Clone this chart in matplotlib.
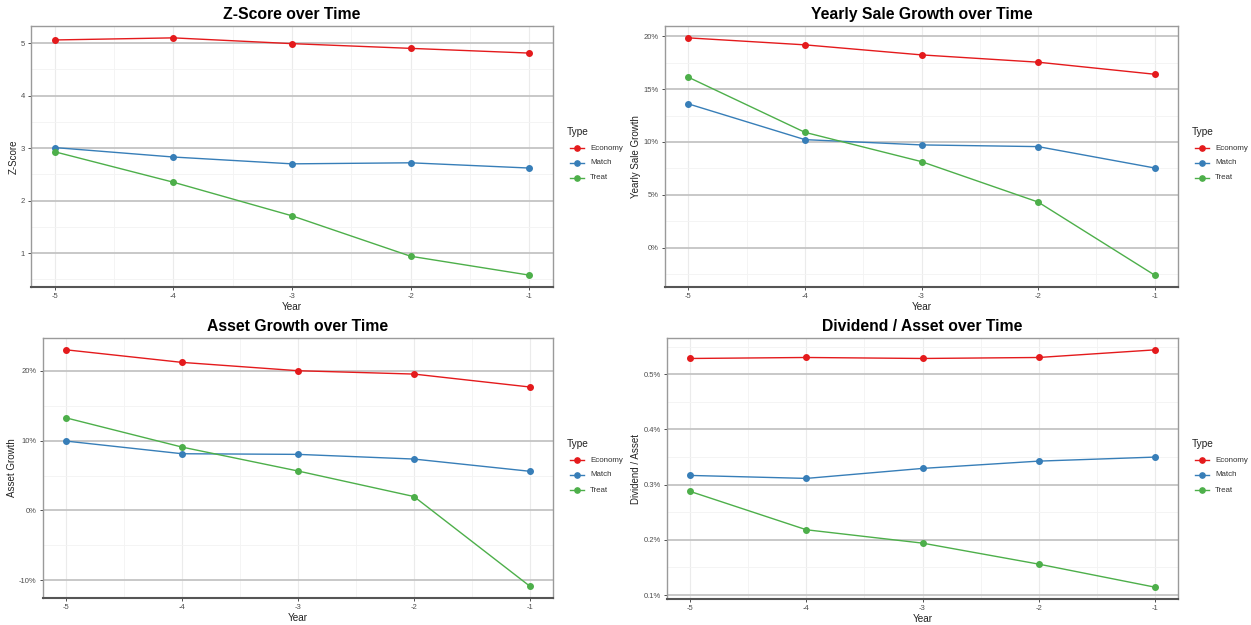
import matplotlib
matplotlib.use("Agg")
import matplotlib.pyplot as plt
from matplotlib.ticker import FixedLocator, FuncFormatter
from matplotlib.lines import Line2D

plt.rcParams['font.family'] = ['Liberation Sans', 'DejaVu Sans']

years = [-5, -4, -3, -2, -1]
types = ["Economy", "Match", "Treat"]
colors = {"Economy": "#E41A1C", "Match": "#377EB8", "Treat": "#4DAF4A"}

zscore_economy = [5.06, 5.10, 4.99, 4.90, 4.81]
zscore_match = [3.01, 2.83, 2.70, 2.72, 2.62]
zscore_treat = [2.93, 2.35, 1.71, 0.94, 0.58]

sale_economy = [19.84, 19.18, 18.23, 17.54, 16.40]
sale_match = [13.60, 10.22, 9.72, 9.56, 7.54]
sale_treat = [16.12, 10.91, 8.14, 4.32, -2.59]

asset_economy = [22.99, 21.19, 20.00, 19.52, 17.67]
asset_match = [9.93, 8.12, 8.03, 7.36, 5.61]
asset_treat = [13.25, 9.07, 5.65, 2.00, -10.83]

div_economy = [0.5284, 0.5302, 0.5284, 0.5302, 0.5440]
div_match = [0.3166, 0.3112, 0.3293, 0.3425, 0.3498]
div_treat = [0.2876, 0.2182, 0.1940, 0.1560, 0.1143]

W, H = 1251, 625
fig = plt.figure(figsize=(W / 100, H / 100), dpi=100)


def add_ax(l, t, r, b):
    return fig.add_axes([l / W, 1 - b / H, (r - l) / W, (b - t) / H])


panels = [
    dict(box=(31, 26, 553, 287), title="Z-Score over Time", ylabel="Z-Score",
         data=[zscore_economy, zscore_match, zscore_treat],
         major=[1, 2, 3, 4, 5], minor=[0.5, 1.5, 2.5, 3.5, 4.5],
         fmt=lambda v, p: f"{v:g}", legend=(567, 132)),
    dict(box=(665, 26, 1178, 287), title="Yearly Sale Growth over Time", ylabel="Yearly Sale Growth",
         data=[sale_economy, sale_match, sale_treat],
         major=[0, 5, 10, 15, 20], minor=[-2.5, 2.5, 7.5, 12.5, 17.5],
         fmt=lambda v, p: f"{v:g}%", legend=(1192, 132)),
    dict(box=(43, 338, 553, 598), title="Asset Growth over Time", ylabel="Asset Growth",
         data=[asset_economy, asset_match, asset_treat],
         major=[-10, 0, 10, 20], minor=[-5, 5, 15],
         fmt=lambda v, p: f"{v:g}%", legend=(567, 444)),
    dict(box=(667, 338, 1178, 599), title="Dividend / Asset over Time", ylabel="Dividend / Asset",
         data=[div_economy, div_match, div_treat],
         major=[0.1, 0.2, 0.3, 0.4, 0.5], minor=[0.15, 0.25, 0.35, 0.45, 0.55],
         fmt=lambda v, p: f"{v:.1f}%", legend=(1192, 444)),
]

for pn in panels:
    l, t, r, b = pn["box"]
    ax = add_ax(l, t, r, b)
    allv = [v for s in pn["data"] for v in s]
    lo, hi = min(allv), max(allv)
    pad = (hi - lo) * 0.05
    ax.set_ylim(lo - pad, hi + pad)
    ax.set_xlim(-5.2, -0.8)
    ax.yaxis.set_major_locator(FixedLocator(pn["major"]))
    ax.yaxis.set_minor_locator(FixedLocator(pn["minor"]))
    ax.xaxis.set_major_locator(FixedLocator(years))
    ax.xaxis.set_minor_locator(FixedLocator([-4.5, -3.5, -2.5, -1.5]))
    ax.yaxis.set_major_formatter(FuncFormatter(pn["fmt"]))
    ax.xaxis.set_major_formatter(FuncFormatter(lambda v, p: f"{int(v)}"))
    ax.grid(which="major", axis="y", color="#c4c4c4", linewidth=1.3, zorder=0)
    ax.grid(which="major", axis="x", color="#ebebeb", linewidth=0.8, zorder=0)
    ax.grid(which="minor", axis="both", color="#f3f3f3", linewidth=0.6, zorder=0)
    ax.set_axisbelow(True)
    for side in ["top", "right", "left"]:
        ax.spines[side].set_color("#9a9a9a")
        ax.spines[side].set_linewidth(1.0)
    ax.spines["bottom"].set_color("#555555")
    ax.spines["bottom"].set_linewidth(1.5)
    ax.tick_params(axis="both", which="major", labelsize=5.5, colors="#333333",
                   length=2.5, width=0.6, pad=2, labelcolor="#4d4d4d")
    ax.tick_params(axis="both", which="minor", length=0)
    for name, series in zip(types, pn["data"]):
        ax.plot(years, series, color=colors[name], linewidth=1.0, marker="o",
                markersize=4.0, zorder=3)
    ax.set_title(pn["title"], fontsize=11.3, fontweight="bold", pad=5)
    ax.set_xlabel("Year", fontsize=7.2, labelpad=1, color="#222222")
    ax.set_ylabel(pn["ylabel"], fontsize=7, labelpad=1.5, color="#222222")

    lx, ly = pn["legend"]
    fig.text(lx / W, 1 - ly / H, "Type", fontsize=7.3, color="#222222", va="center", ha="left")
    for i, name in enumerate(types):
        yy = 1 - (ly + 16 + i * 15) / H
        fig.add_artist(Line2D([(lx + 3) / W, (lx + 17) / W], [yy, yy], color=colors[name],
                              linewidth=1.0, marker="", transform=fig.transFigure))
        fig.add_artist(Line2D([(lx + 10) / W], [yy], color=colors[name], marker="o",
                              markersize=3.8, transform=fig.transFigure))
        fig.text((lx + 23) / W, yy, name, fontsize=5.7, color="#333333", va="center", ha="left")

fig.savefig("out.png", dpi=100)
